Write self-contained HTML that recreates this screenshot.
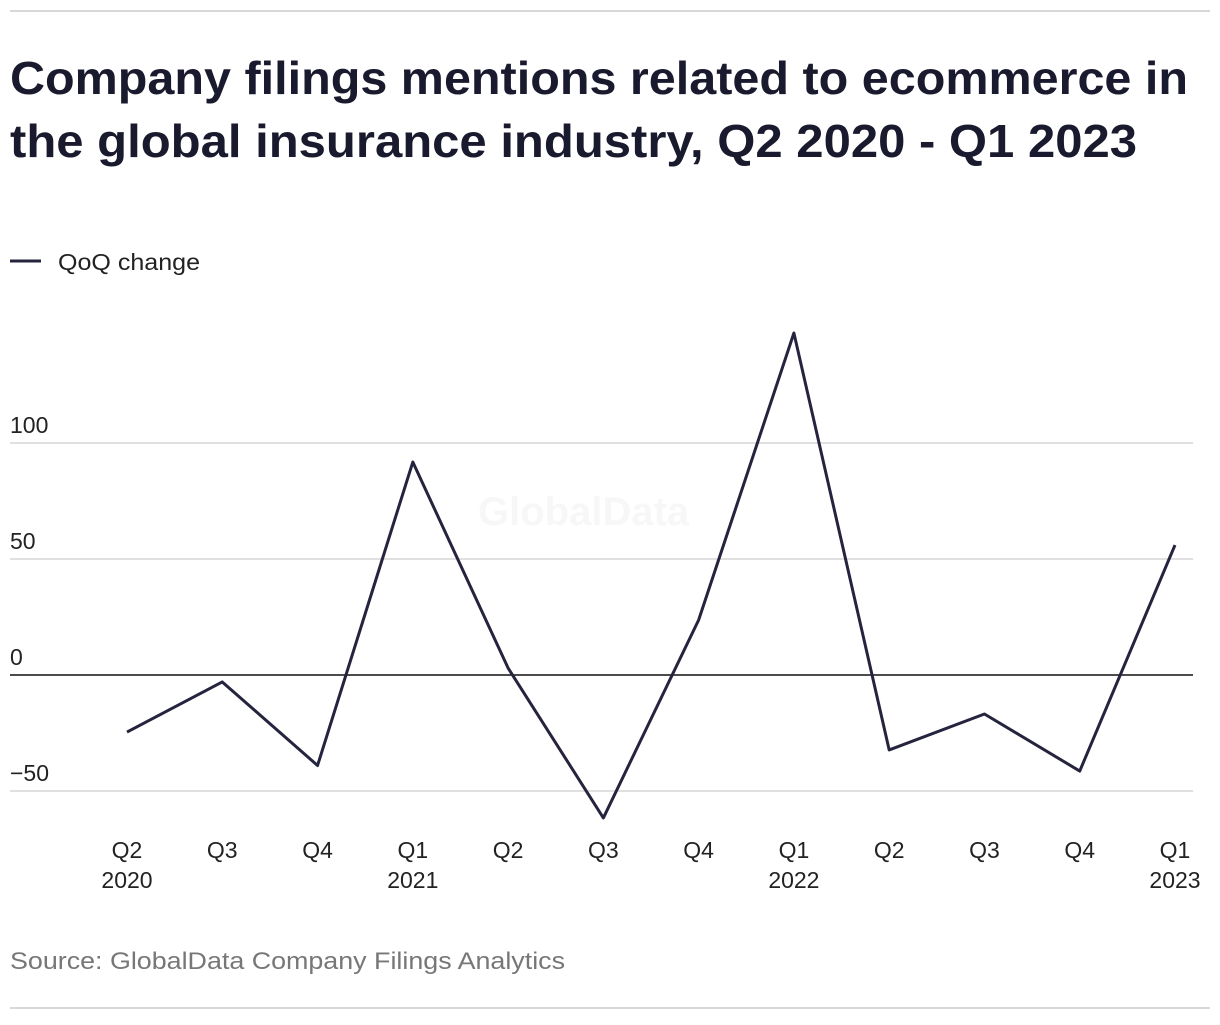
<!DOCTYPE html>
<html><head><meta charset="utf-8"><style>
body{margin:0;background:#fff;width:1220px;height:1020px;overflow:hidden;font-family:"Liberation Sans",sans-serif;}
svg text{font-family:"Liberation Sans",sans-serif;}
</style></head><body>
<svg width="1220" height="1020">
<line x1="10" y1="11" x2="1210" y2="11" stroke="#d8d8d8" stroke-width="2"/>
<text x="10" y="94" font-size="46" font-weight="bold" fill="#1a1a2e" textLength="1178" lengthAdjust="spacingAndGlyphs">Company filings mentions related to ecommerce in</text>
<text x="10" y="157" font-size="46" font-weight="bold" fill="#1a1a2e" textLength="1127" lengthAdjust="spacingAndGlyphs">the global insurance industry, Q2 2020 - Q1 2023</text>
<line x1="10" y1="261" x2="41" y2="261" stroke="#25243f" stroke-width="3"/>
<text x="58" y="270" font-size="23" fill="#222" textLength="142" lengthAdjust="spacingAndGlyphs">QoQ change</text>
<text x="478" y="525" font-size="40" font-weight="bold" fill="#f7f7f7">GlobalData</text>
<g id="grid"></g><g id="xl"></g>
<polyline id="line" fill="none" stroke="#25243f" stroke-width="3" stroke-linejoin="round"/>
<text x="10" y="969" font-size="24" fill="#777" textLength="555" lengthAdjust="spacingAndGlyphs">Source: GlobalData Company Filings Analytics</text>
<line x1="10" y1="1008" x2="1210" y2="1008" stroke="#d8d8d8" stroke-width="2"/>
</svg>
<script>
const quarters=["Q2","Q3","Q4","Q1","Q2","Q3","Q4","Q1","Q2","Q3","Q4","Q1"];
const years=["2020","","","2021","","","","2022","","","","2023"];
const values=[-24.6,-3,-39,91.8,3,-61.6,23.7,147.4,-32.3,-16.8,-41.4,56];
const yTicks=[-50,0,50,100];
const yTickLabels=["\u221250","0","50","100"];
const NS="http://www.w3.org/2000/svg";
const x=i=>127+i*(1175-127)/(values.length-1);
const y=v=>675-v*2.32;
const grid=document.getElementById('grid');
yTicks.forEach((t,i)=>{
 const l=document.createElementNS(NS,'line');
 l.setAttribute('x1',10);l.setAttribute('x2',1193);l.setAttribute('y1',y(t));l.setAttribute('y2',y(t));
 l.setAttribute('stroke',t===0?'#111':'#d5d5d5');l.setAttribute('stroke-width',1.5);
 
 
 grid.appendChild(l);
 const tx=document.createElementNS(NS,'text');
 tx.setAttribute('x',10);tx.setAttribute('y',y(t)-10);tx.setAttribute('font-size','23');tx.setAttribute('fill','#222');
 tx.textContent=yTickLabels[i];
 
 
 grid.appendChild(tx);
});
const xl=document.getElementById('xl');
quarters.forEach((q,i)=>{
 const t=document.createElementNS(NS,'text');
 t.setAttribute('x',x(i));t.setAttribute('y',858);t.setAttribute('font-size','23');t.setAttribute('fill','#222');t.setAttribute('text-anchor','middle');
 t.textContent=q;
 
 
 xl.appendChild(t);
 if(years[i]){
  const yy=document.createElementNS(NS,'text');
  yy.setAttribute('x',x(i));yy.setAttribute('y',888);yy.setAttribute('font-size','23');yy.setAttribute('fill','#222');yy.setAttribute('text-anchor','middle');
  yy.textContent=years[i];
  
  
  xl.appendChild(yy);
 }
});
document.getElementById('line').setAttribute('points',values.map((v,i)=>x(i)+','+y(v)).join(' '));
</script>
</body></html>
